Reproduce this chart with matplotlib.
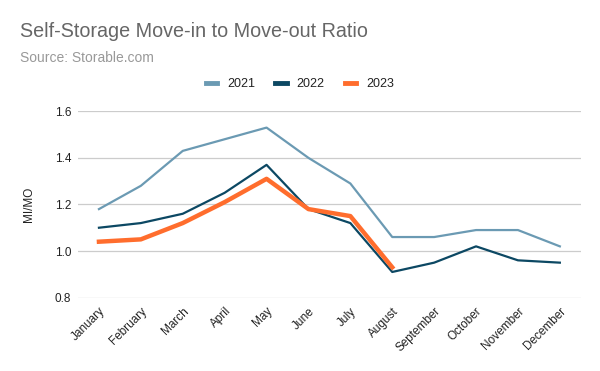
import numpy as np
import matplotlib.pyplot as plt
from matplotlib.lines import Line2D

plt.rcParams['font.family'] = ['Liberation Sans', 'DejaVu Sans']

months = ["January", "February", "March", "April", "May", "June", "July",
          "August", "September", "October", "November", "December"]
y2021 = [1.18, 1.28, 1.43, 1.48, 1.53, 1.40, 1.29, 1.06, 1.06, 1.09, 1.09, 1.02]
y2022 = [1.10, 1.12, 1.16, 1.25, 1.37, 1.18, 1.12, 0.91, 0.95, 1.02, 0.96, 0.95]
y2023 = [1.04, 1.05, 1.12, 1.21, 1.31, 1.18, 1.15, 0.93]

c21, c22, c23 = "#6b9ab3", "#0c4863", "#ff6d2d"

fig = plt.figure(figsize=(6, 3.71), dpi=100)
ax = fig.add_axes([0.13, 0.196, 0.838, 0.504])

x = np.arange(len(months))
ax.plot(x, y2021, color=c21, lw=1.6)
ax.plot(x, y2022, color=c22, lw=1.6)
ax.plot(x[:len(y2023)], y2023, color=c23, lw=3.2)

ax.set_xlim(-0.5, 11.5)
ax.set_ylim(0.797, 1.6)
ax.set_yticks([0.8, 1.0, 1.2, 1.4, 1.6])
ax.set_yticklabels(["0.8", "1.0", "1.2", "1.4", "1.6"])
ax.set_xticks(x)
ax.set_xticklabels(months, rotation=45, ha="right", rotation_mode="anchor")
ax.tick_params(length=0, labelsize=8.5, colors="#222222", pad=5)
ax.grid(axis="y", color="#cccccc", lw=0.9)
ax.set_axisbelow(True)
for s in ax.spines.values():
    s.set_visible(False)
ax.set_ylabel("MI/MO", fontsize=8.5, color="#222222", labelpad=14)

fig.text(0.033, 0.915, "Self-Storage Move-in to Move-out Ratio", fontsize=14.2,
         color="#666666", va="center")
fig.text(0.033, 0.843, "Source: Storable.com", fontsize=10, color="#999999",
         va="center")
handles = [Line2D([], [], color=c, lw=3.5) for c in (c21, c22, c23)]
fig.legend(handles, ["2021", "2022", "2023"], loc="center",
           bbox_to_anchor=(0.5, 0.773), ncol=3, frameon=False,
           fontsize=9, handlelength=0.9, columnspacing=1.6, handletextpad=0.8,
           labelcolor="#222222")

fig.savefig("out.png", dpi=100, facecolor="white")
